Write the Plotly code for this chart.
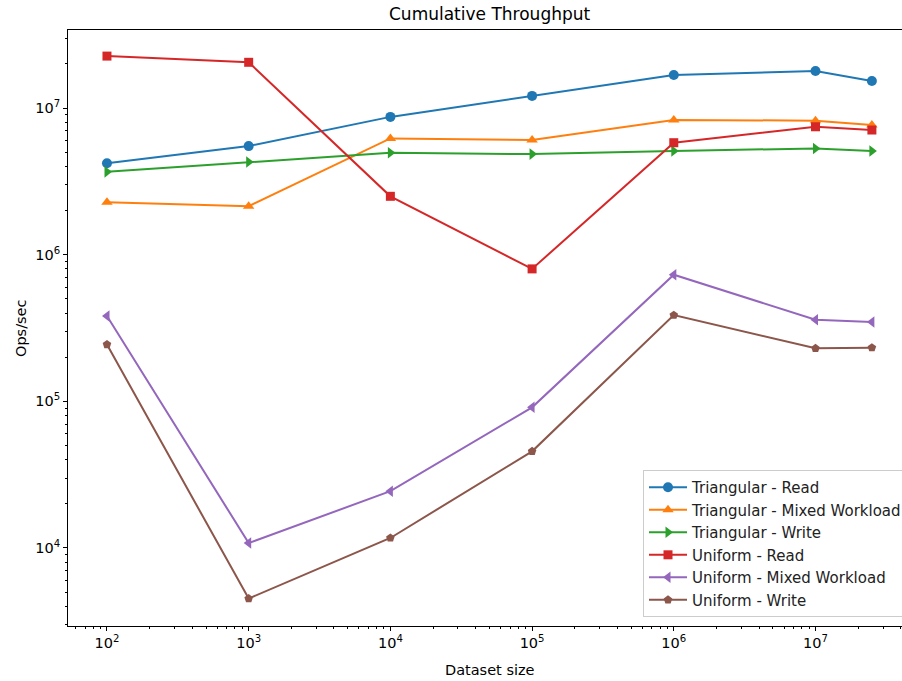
import plotly.graph_objects as go

dataset_sizes = [1e2, 1e3, 1e4, 1e5, 1e6, 1e7, 2.5e7]

tri_read = [4.2e6, 5.5e6, 8.7e6, 1.21e7, 1.68e7, 1.79e7, 1.53e7]
tri_mixed = [2.28e6, 2.14e6, 6.2e6, 6.05e6, 8.3e6, 8.2e6, 7.65e6]
tri_write = [3.67e6, 4.28e6, 4.95e6, 4.85e6, 5.1e6, 5.3e6, 5.1e6]
uni_read = [2.26e7, 2.05e7, 2.5e6, 8.0e5, 5.8e6, 7.45e6, 7.08e6]
uni_mixed = [3.82e5, 1.08e4, 2.44e4, 9.1e4, 7.3e5, 3.6e5, 3.48e5]
uni_write = [2.44e5, 4.52e3, 1.17e4, 4.56e4, 3.87e5, 2.3e5, 2.32e5]

series_names = ["Triangular - Read", "Triangular - Mixed Workload", "Triangular - Write",
                "Uniform - Read", "Uniform - Mixed Workload", "Uniform - Write"]
series_values = [tri_read, tri_mixed, tri_write, uni_read, uni_mixed, uni_write]
colors = ["#1f77b4", "#ff7f0e", "#2ca02c", "#d62728", "#9467bd", "#8c564b"]
symbols = ["circle", "triangle-up", "triangle-right", "square", "triangle-left", "pentagon"]
sizes = [10, 10, 10, 9, 10, 9]

x_major = [1e2, 1e3, 1e4, 1e5, 1e6, 1e7]
x_major_text = ["10<sup>2</sup>", "10<sup>3</sup>", "10<sup>4</sup>", "10<sup>5</sup>",
                "10<sup>6</sup>", "10<sup>7</sup>"]
y_major = [1e4, 1e5, 1e6, 1e7]
y_major_text = ["10<sup>4</sup>", "10<sup>5</sup>", "10<sup>6</sup>", "10<sup>7</sup>"]

FONT = "DejaVu Sans"
FIG_W = 912  # axes extend past the 902 px window, as in the reference
PLOT_W = FIG_W - 68

fig = go.Figure()
for name, vals, c, s, sz in zip(series_names, series_values, colors, symbols, sizes):
    fig.add_trace(go.Scatter(
        x=dataset_sizes, y=vals, name=name, mode="lines+markers",
        line=dict(color=c, width=2),
        marker=dict(symbol=s, size=sz, color=c),
    ))

x_minor = [m * 10 ** e for e in range(1, 8) for m in range(2, 10)]
y_minor = [m * 10 ** e for e in range(3, 8) for m in range(2, 10)]

fig.update_layout(
    width=FIG_W, height=681,
    margin=dict(l=68, r=0, t=30, b=55),
    paper_bgcolor="white", plot_bgcolor="white",
    font=dict(family=FONT, size=14, color="black"),
    showlegend=True,
    legend=dict(
        x=(643 - 68) / PLOT_W, y=0.015, xanchor="left", yanchor="bottom",
        bgcolor="rgba(255,255,255,0.8)", bordercolor="#cccccc", borderwidth=1,
        font=dict(family=FONT, size=15, color="#222222"),
        tracegroupgap=0, itemwidth=38,
    ),
    xaxis=dict(
        type="log", range=[1.725, 7.681],
        showgrid=False, zeroline=False,
        showline=True, linecolor="black", linewidth=1, mirror=True,
        ticks="outside", ticklen=4, tickcolor="black",
        tickmode="array", tickvals=x_major, ticktext=x_major_text,
        tickfont=dict(family=FONT, size=14.5, color="black"),
        minor=dict(tickmode="array", tickvals=x_minor, ticks="outside", ticklen=2,
                   tickcolor="black", showgrid=False),
    ),
    yaxis=dict(
        type="log", range=[3.468, 7.532],
        showgrid=False, zeroline=False,
        showline=True, linecolor="black", linewidth=1, mirror=False,
        ticks="outside", ticklen=4, tickcolor="black",
        tickmode="array", tickvals=y_major, ticktext=y_major_text,
        tickfont=dict(family=FONT, size=14.5, color="black"),
        minor=dict(tickmode="array", tickvals=y_minor, ticks="outside", ticklen=2,
                   tickcolor="black", showgrid=False),
    ),
    annotations=[
        dict(text="Cumulative Throughput", xref="paper", yref="paper",
             x=(489.5 - 68) / PLOT_W, y=1, yshift=4, xanchor="center", yanchor="bottom",
             showarrow=False, font=dict(family=FONT, size=17, color="black")),
        dict(text="Dataset size", xref="paper", yref="paper",
             x=(489.5 - 68) / PLOT_W, y=0, yshift=-34, xanchor="center", yanchor="top",
             showarrow=False, font=dict(family=FONT, size=14.5, color="black")),
        dict(text="Ops/sec", xref="paper", yref="paper",
             x=0, xshift=-47, y=0.5, xanchor="center", yanchor="middle", textangle=-90,
             showarrow=False, font=dict(family=FONT, size=14.5, color="black")),
    ],
)

fig.write_html("out.html", config={"displayModeBar": False},
               post_script="document.body.style.margin='0';document.body.style.overflow='hidden';")
